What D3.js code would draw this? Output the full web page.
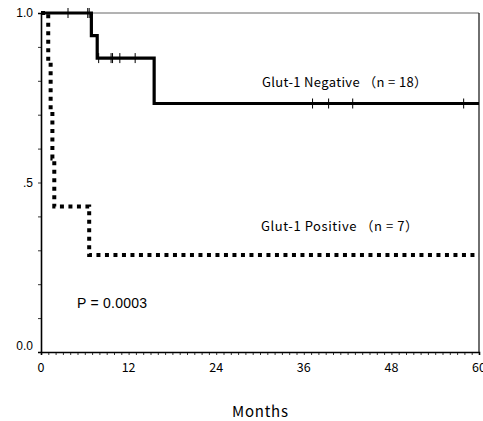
<!DOCTYPE html>
<html>
<head>
<meta charset="utf-8">
<script src="https://cdn.jsdelivr.net/npm/d3@7"></script>
<style>
  body { margin: 0; background: #fff; }
  svg { display: block; }
  .jp { font-family: "Noto Sans CJK JP", sans-serif; }
  .ar { font-family: "Liberation Sans", Arial, sans-serif; }
</style>
</head>
<body>
<div id="chart"></div>
<script>
// Kaplan-Meier data (months, survival)
const negEventTimes = [6.9, 7.7, 15.5];
const negEventSurv = [0.933, 0.867, 0.733];
const negCensorTimes = [3.7, 6.4, 6.6, 7.9, 9.6, 9.8, 10.8, 12.9, 37.2, 39.4, 42.7, 57.9];

const posEventTimes = [0.99, 1.32, 1.56, 1.82, 6.6];
const posEventSurv = [0.857, 0.714, 0.571, 0.429, 0.286];

const xTicks = [0, 12, 24, 36, 48, 60];
const yLabels = [[1, "1.0"], [0.5, ".5"], [0, "0.0"]];

const width = 483, height = 421;
const x = d3.scaleLinear().domain([0, 60]).range([41, 479]);
const y = d3.scaleLinear().domain([0, 1]).range([352, 13]);

const svg = d3.select("#chart").append("svg")
    .attr("width", width)
    .attr("height", height);

// build step series
function stepSeries(times, surv) {
  let pts = [[0, 1]];
  times.forEach((t, i) => pts.push([t, surv[i]]));
  pts.push([60, surv[surv.length - 1]]);
  return pts;
}
function survAt(times, surv, t) {
  let s = 1;
  times.forEach((tt, i) => { if (tt <= t) s = surv[i]; });
  return s;
}

const line = d3.line()
    .x(d => x(d[0]))
    .y(d => y(d[1]))
    .curve(d3.curveStepAfter);

// frame (top and right)
svg.append("line")
    .attr("x1", x(0)).attr("x2", x(60))
    .attr("y1", y(1)).attr("y2", y(1))
    .attr("stroke", "#666").attr("stroke-width", 1);
svg.append("line")
    .attr("x1", x(60)).attr("x2", x(60))
    .attr("y1", y(1)).attr("y2", y(0))
    .attr("stroke", "#222").attr("stroke-width", 1.3);

// x axis
const xAxis = d3.axisBottom(x)
    .tickValues(d3.range(0, 61, 1))
    .tickSize(3)
    .tickFormat("");
const gx = svg.append("g")
    .attr("transform", `translate(0,${y(0)})`)
    .call(xAxis);
gx.select(".domain").attr("stroke-width", 1.6);
gx.selectAll(".tick line").attr("stroke-width", 0.8);

svg.append("g").selectAll("text")
    .data(xTicks)
    .join("text")
    .attr("class", "jp")
    .attr("x", d => x(d))
    .attr("y", 372)
    .attr("text-anchor", "middle")
    .attr("font-size", 12.5)
    .text(d => d);

// y axis
const yAxis = d3.axisLeft(y)
    .tickValues(d3.range(0, 1.01, 0.1))
    .tickSize(3)
    .tickFormat("");
const gy = svg.append("g")
    .attr("transform", `translate(${x(0)},0)`)
    .call(yAxis);
gy.select(".domain").attr("stroke-width", 1.6);
gy.selectAll(".tick line").attr("stroke-width", 0.8);

svg.append("g").selectAll("text")
    .data(yLabels)
    .join("text")
    .attr("class", "ar")
    .attr("x", 33)
    .attr("y", d => d[0] === 0 ? y(0) - 2 : y(d[0]) + 4)
    .attr("text-anchor", "end")
    .attr("font-size", 12)
    .text(d => d[1]);

// Glut-1 positive (dotted)
svg.append("path")
    .datum(stepSeries(posEventTimes, posEventSurv))
    .attr("d", line)
    .attr("fill", "none")
    .attr("stroke", "#000")
    .attr("stroke-width", 4)
    .attr("stroke-dasharray", "4,4.5");

// Glut-1 negative (solid)
svg.append("path")
    .datum(stepSeries(negEventTimes, negEventSurv))
    .attr("d", line)
    .attr("fill", "none")
    .attr("stroke", "#000")
    .attr("stroke-width", 3.2);

// censor marks
svg.append("g").selectAll("line")
    .data(negCensorTimes)
    .join("line")
    .attr("x1", d => x(d)).attr("x2", d => x(d))
    .attr("y1", d => y(survAt(negEventTimes, negEventSurv, d)) - 5)
    .attr("y2", d => y(survAt(negEventTimes, negEventSurv, d)) + 5)
    .attr("stroke", "#000")
    .attr("stroke-width", 1);

// labels
svg.append("text")
    .attr("class", "jp")
    .attr("x", 262).attr("y", 87)
    .attr("font-size", 13)
    .attr("textLength", 165)
    .attr("lengthAdjust", "spacing")
    .text("Glut-1 Negative （n = 18）");

svg.append("text")
    .attr("class", "jp")
    .attr("x", 261).attr("y", 231)
    .attr("font-size", 13)
    .attr("textLength", 157)
    .attr("lengthAdjust", "spacing")
    .text("Glut-1 Positive （n = 7）");

svg.append("text")
    .attr("class", "ar")
    .attr("x", 77).attr("y", 308)
    .attr("font-size", 14)
    .attr("textLength", 70)
    .attr("lengthAdjust", "spacing")
    .text("P = 0.0003");

svg.append("text")
    .attr("class", "jp")
    .attr("x", 232).attr("y", 417)
    .attr("font-size", 15)
    .attr("textLength", 56)
    .attr("lengthAdjust", "spacing")
    .text("Months");
</script>
</body>
</html>
